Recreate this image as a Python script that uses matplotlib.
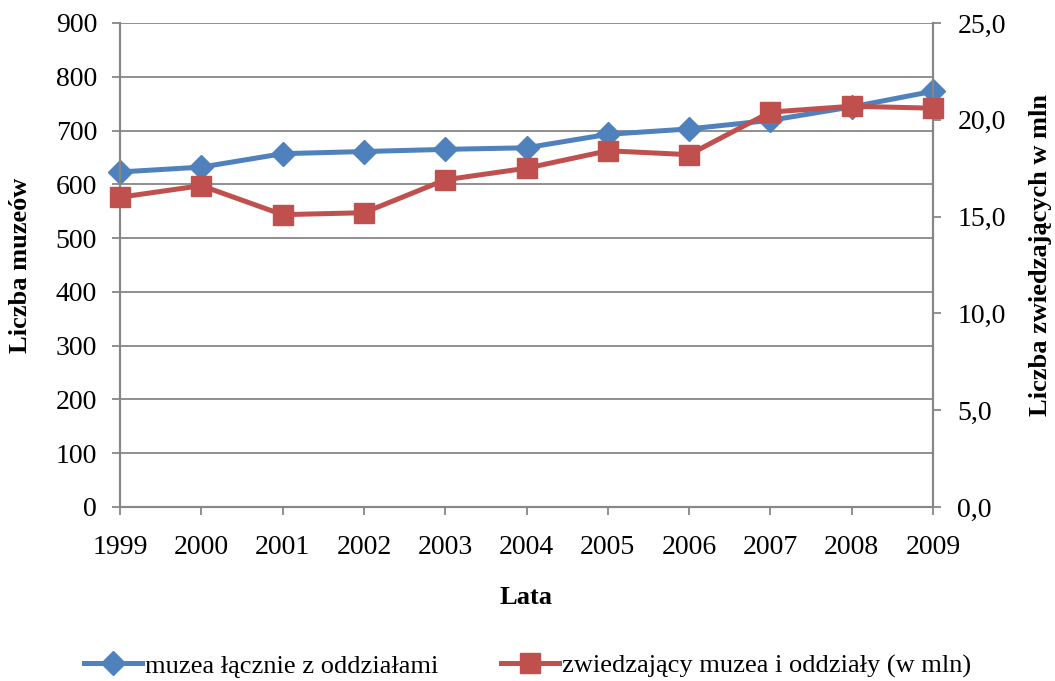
import matplotlib.pyplot as plt

# Muzea w Polsce 1999-2009
lata = [1999, 2000, 2001, 2002, 2003, 2004, 2005, 2006, 2007, 2008, 2009]
muzea = [623, 632, 657, 661, 665, 668, 693, 703, 719, 744, 773]
zwiedzajacy = [16.0, 16.6, 15.1, 15.2, 16.9, 17.5, 18.4, 18.2, 20.4, 20.7, 20.6]

lewe_ticki = list(range(0, 1000, 100))
prawe_ticki = [0, 5, 10, 15, 20, 25]

plt.rcParams['font.family'] = ['Liberation Serif', 'DejaVu Serif']

NIEBIESKI = '#4F81BD'
CZERWONY = '#C0504D'
SZARY = '#878787'

fig = plt.figure(figsize=(10.55, 6.81), dpi=100)
ax = fig.add_axes([120 / 1055, 1 - 507 / 681, (933 - 120) / 1055, (507 - 23) / 681])
ax2 = ax.twinx()

l1, = ax.plot(lata, muzea, color=NIEBIESKI, lw=3.6, marker='D', markersize=12,
              label='muzea łącznie z oddziałami', zorder=3, clip_on=False)
l2, = ax2.plot(lata, zwiedzajacy, color=CZERWONY, lw=3.6, marker='s', markersize=14,
               label='zwiedzający muzea i oddziały (w mln)', zorder=3, clip_on=False)

ax.set_xlim(lata[0], lata[-1])
ax.set_ylim(0, 900)
ax.set_yticks(lewe_ticki)
ax.set_xticks(lata)
ax2.set_ylim(0, 25)
ax2.set_yticks(prawe_ticki)
ax2.set_yticklabels([f'{v:.1f}'.replace('.', ',') for v in prawe_ticki])

ax.grid(axis='y', color=SZARY, lw=1.3)
ax.set_axisbelow(True)

for a in (ax, ax2):
    a.spines['top'].set_visible(False)
    for s in ('left', 'right', 'bottom'):
        a.spines[s].set_color(SZARY)
        a.spines[s].set_linewidth(1.5)
    a.tick_params(colors=SZARY, labelcolor='black', labelsize=20, length=5.5, width=1.3)
    a.patch.set_visible(False)

ax.tick_params(axis='x', pad=15)
ax.tick_params(axis='y', pad=11)
ax2.tick_params(axis='y', pad=12)

ax.set_ylabel('Liczba muzeów', fontsize=19, fontweight='bold')
ax2.set_ylabel('Liczba zwiedzających w mln', fontsize=19, fontweight='bold')
ax.set_xlabel('Lata', fontsize=19, fontweight='bold')
ax.yaxis.set_label_coords((20 - 120) / 813, 0.5)
ax2.yaxis.set_label_coords((1040 - 120) / 813, 0.52)
ax.xaxis.set_label_coords(0.5, (507 - 598) / 484)
for lab in (ax.yaxis.label, ax2.yaxis.label, ax.xaxis.label):
    lab.set_va('center')

fig.legend(handles=[l1, l2], loc='center', bbox_to_anchor=(0.5, 1 - 666 / 681),
           ncol=2, frameon=False, fontsize=19, handlelength=2.2, columnspacing=2.4,
           handletextpad=0.1)

fig.savefig('out.png', dpi=100)
